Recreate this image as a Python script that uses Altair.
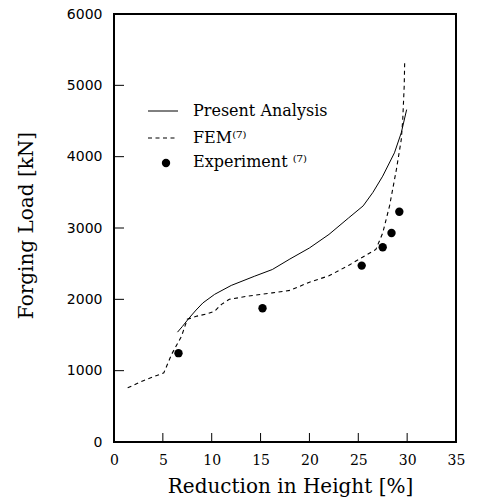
import altair as alt
import pandas as pd

# ---- data ----
fem_x = [1.4, 3.0, 5.1, 5.9, 6.9, 7.5, 8.5, 9.5, 10.3, 11.0, 11.8, 13.7, 16.2, 18.0,
         20.0, 22.0, 24.0, 26.8, 27.5, 28.2, 28.9, 29.4, 29.55, 29.7, 29.75]
fem_y = [760, 860, 970, 1230, 1480, 1720, 1765, 1795, 1835, 1930, 2000, 2045, 2090, 2125,
         2240, 2330, 2475, 2700, 2930, 3310, 3820, 4240, 4520, 4990, 5340]

pa_x = [6.5, 7.0, 7.7, 8.4, 9.1, 10.3, 12.0, 14.4, 16.2, 18.0, 20.0, 22.0, 24.0,
        25.5, 26.5, 27.5, 28.7, 29.4, 29.95]
pa_y = [1540, 1620, 1740, 1850, 1950, 2070, 2195, 2325, 2418, 2565, 2720, 2910, 3140,
        3310, 3500, 3727, 4054, 4335, 4660]

exp_x = [6.6, 15.2, 25.35, 27.5, 28.4, 29.2]
exp_y = [1245, 1875, 2473, 2730, 2930, 3227]

x_ticks = [0, 5, 10, 15, 20, 25, 30, 35]
y_ticks = [0, 1000, 2000, 3000, 4000, 5000, 6000]
x_inner_ticks = [5, 10, 15, 20, 25, 30]
y_inner_ticks = [1000, 2000, 3000, 4000, 5000]

legend_labels = ["Present Analysis", "FEM\u207d\u2077\u207e", "Experiment \u207d\u2077\u207e"]
x_title = "Reduction in Height [%]"
y_title = "Forging Load [kN]"

W, H = 342, 428

xs = alt.Scale(domain=[0, 35], nice=False, zero=False)
ys = alt.Scale(domain=[0, 6000], nice=False)

fem = pd.DataFrame({"x": fem_x, "y": fem_y, "i": range(len(fem_x))})
pa = pd.DataFrame({"x": pa_x, "y": pa_y, "i": range(len(pa_x))})
ex = pd.DataFrame({"x": exp_x, "y": exp_y})
one = pd.DataFrame({"k": [0]})

x_axis = alt.Axis(values=x_ticks, ticks=False, domain=False, grid=False,
                  labelFont="DejaVu Serif", labelFontSize=14, labelPadding=11,
                  labelColor="black", labelFlush=False,
                  title=x_title, titleFont="DejaVu Serif", titleFontSize=20,
                  titleFontWeight="normal", titleColor="black",
                  titleX=176, titleY=50, titleBaseline="alphabetic", titleAlign="center")
y_axis = alt.Axis(values=y_ticks, format="d", ticks=False, domain=False, grid=False,
                  labelFont="DejaVu Sans", labelFontSize=14, labelPadding=12,
                  labelColor="black",
                  title=y_title, titleFont="DejaVu Serif", titleFontSize=20,
                  titleFontWeight="normal", titleColor="black",
                  titleAngle=270, titleX=-82, titleY=211,
                  titleBaseline="alphabetic", titleAlign="center")

X = alt.X("x:Q", scale=xs, axis=x_axis, title=x_title)
Y = alt.Y("y:Q", scale=ys, axis=y_axis, title=y_title)

pa_line = alt.Chart(pa).mark_line(color="black", strokeWidth=1).encode(
    x=X, y=Y, order="i:Q")
fem_line = alt.Chart(fem).mark_line(color="black", strokeWidth=1.1, strokeDash=[4, 3.5]).encode(
    x=X, y=Y, order="i:Q")
exp_pts = alt.Chart(ex).mark_circle(color="black", opacity=1, size=70).encode(x=X, y=Y)

xt = alt.Chart(pd.DataFrame({"x": x_inner_ticks})).mark_rule(color="black", strokeWidth=1).encode(
    x=X, y=alt.value(H), y2=alt.value(H - 9))
yt = alt.Chart(pd.DataFrame({"y": y_inner_ticks})).mark_rule(color="black", strokeWidth=1).encode(
    y=Y, x=alt.value(0), x2=alt.value(10))

# ---- legend drawn inside the plot ----
leg_solid = alt.Chart(one).mark_rule(color="black", strokeWidth=1).encode(
    x=alt.value(34), x2=alt.value(64), y=alt.value(97))
leg_dash = alt.Chart(one).mark_rule(color="black", strokeWidth=1.1, strokeDash=[4, 3.5]).encode(
    x=alt.value(34), x2=alt.value(64), y=alt.value(124))
leg_dot = alt.Chart(one).mark_circle(color="black", opacity=1, size=70).encode(
    x=alt.value(52), y=alt.value(149))

def leg_text(label, y):
    return alt.Chart(one).mark_text(align="left", baseline="middle", font="DejaVu Serif",
                                    fontSize=16, color="black").encode(
        x=alt.value(79), y=alt.value(y), text=alt.value(label))

chart = alt.layer(
    pa_line, fem_line, exp_pts, xt, yt,
    leg_solid, leg_dash, leg_dot,
    leg_text(legend_labels[0], 97),
    leg_text(legend_labels[1], 124),
    leg_text(legend_labels[2], 148),
).properties(
    width=W, height=H,
    autosize=alt.AutoSizeParams(type="none"),
    padding={"left": 114, "top": 14, "right": 27, "bottom": 57},
    background="white",
).configure_view(stroke="black", strokeWidth=2)

chart.save("out.html", embed_options={"renderer": "svg", "actions": False})
